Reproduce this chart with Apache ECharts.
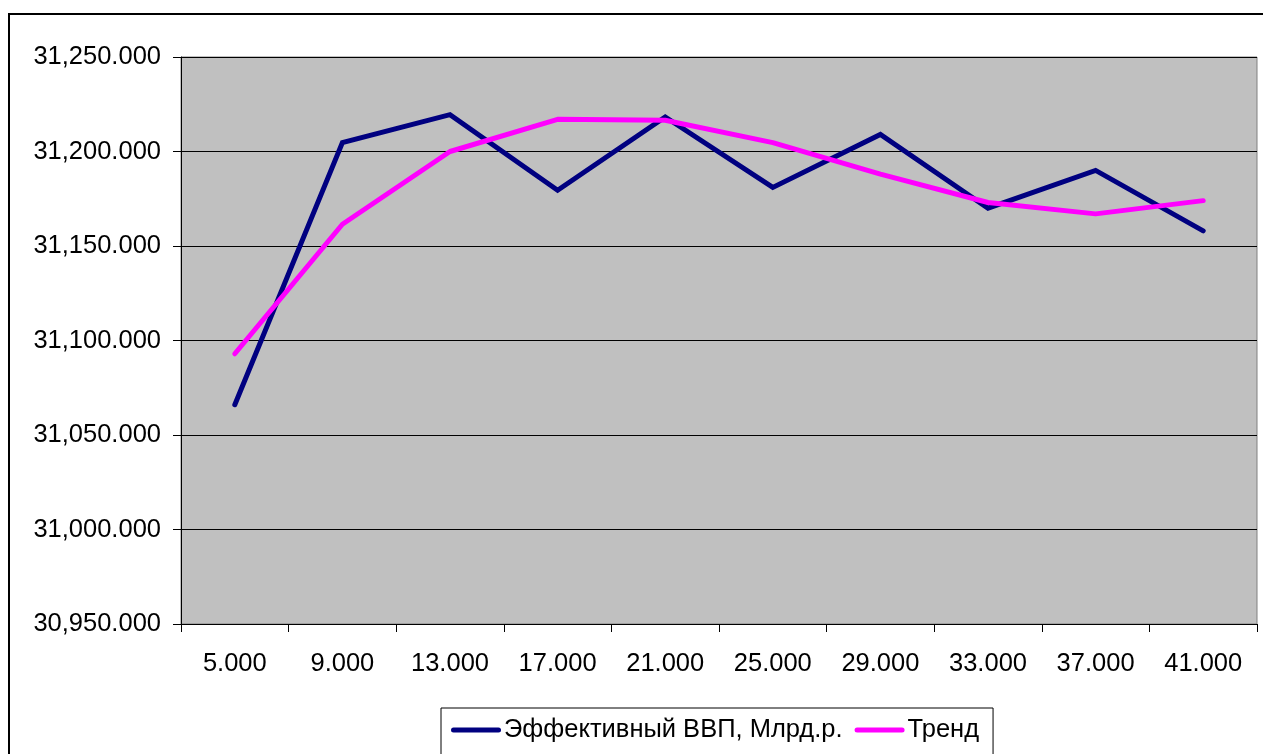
<!DOCTYPE html>
<html>
<head>
<meta charset="utf-8">
<script src="https://cdn.jsdelivr.net/npm/echarts@6/dist/echarts.min.js"></script>
<style>
  html, body { margin: 0; padding: 0; background: #ffffff; }
  #chart { width: 1263px; height: 754px; }
</style>
</head>
<body>
<div id="chart"></div>
<script>
// Period labels along the x axis
const periods = [5, 9, 13, 17, 21, 25, 29, 33, 37, 41];
// Effective GDP, bn rub.
const gdpValues = [31066, 31204.7, 31219.5, 31179.5, 31218.3, 31181, 31209, 31170, 31190, 31158];
// Trend line
const trendValues = [31093, 31161.5, 31200, 31217, 31216.5, 31204.7, 31188, 31173, 31167, 31174];

const seriesNames = ['Эффективный ВВП, Млрд.р.', 'Тренд'];

const FONT = '"Liberation Sans", Arial, sans-serif';

function fmt3(v) {
  return Number(v).toLocaleString('en-US', { minimumFractionDigits: 3, maximumFractionDigits: 3 });
}

const lineIcon = 'path://M2.5,0 H47.5 A2.5,2.5 0 0 1 47.5,5 H2.5 A2.5,2.5 0 0 1 2.5,0 Z';

const chart = echarts.init(document.getElementById('chart'), null, { renderer: 'canvas' });

chart.setOption({
  animation: false,
  backgroundColor: '#ffffff',
  textStyle: { fontFamily: FONT },
  graphic: [{
    type: 'rect',
    shape: { x: 9, y: 14, width: 1300, height: 800 },
    style: { fill: null, stroke: '#000000', lineWidth: 2 },
    z: 100
  }],
  grid: {
    left: 181,
    top: 57,
    right: 6,
    bottom: 130,
    show: true,
    backgroundColor: '#C0C0C0',
    borderColor: '#808080',
    borderWidth: 1,
    outerBoundsMode: 'none'
  },
  legend: {
    left: 441,
    top: 708,
    orient: 'horizontal',
    itemWidth: 50,
    itemHeight: 5,
    itemGap: 12,
    padding: [9, 14, 30, 10],
    borderColor: '#000000',
    borderWidth: 1,
    backgroundColor: '#ffffff',
    symbolKeepAspect: true,
    textStyle: { fontFamily: FONT, fontSize: 25.5, color: '#000000', padding: [0, 0, 0, -2] },
    data: [
      { name: seriesNames[0], icon: lineIcon, itemStyle: { color: '#000080' } },
      { name: seriesNames[1], icon: lineIcon, itemStyle: { color: '#FF00FF' } }
    ]
  },
  xAxis: {
    type: 'category',
    data: periods,
    boundaryGap: true,
    axisLine: { show: true, lineStyle: { color: '#000000', width: 1 } },
    axisTick: { show: true, length: 8, alignWithLabel: false, lineStyle: { color: '#000000' } },
    axisLabel: {
      margin: 27,
      fontFamily: FONT,
      fontSize: 25.5,
      color: '#000000',
      formatter: v => fmt3(v)
    },
    splitLine: { show: false }
  },
  yAxis: {
    type: 'value',
    min: 30950,
    max: 31250,
    interval: 50,
    axisLine: { show: true, lineStyle: { color: '#000000', width: 1 } },
    axisTick: { show: true, length: 8, lineStyle: { color: '#000000' } },
    axisLabel: {
      margin: 20,
      fontFamily: FONT,
      fontSize: 25.5,
      color: '#000000',
      formatter: v => fmt3(v)
    },
    splitLine: { show: true, lineStyle: { color: '#000000', width: 1 } }
  },
  series: [
    {
      name: seriesNames[0],
      type: 'line',
      data: gdpValues,
      showSymbol: false,
      symbol: 'none',
      color: '#000080',
      lineStyle: { color: '#000080', width: 5, cap: 'round', join: 'miter' }
    },
    {
      name: seriesNames[1],
      type: 'line',
      data: trendValues,
      showSymbol: false,
      symbol: 'none',
      color: '#FF00FF',
      lineStyle: { color: '#FF00FF', width: 5, cap: 'round', join: 'round' }
    }
  ]
});
</script>
</body>
</html>
